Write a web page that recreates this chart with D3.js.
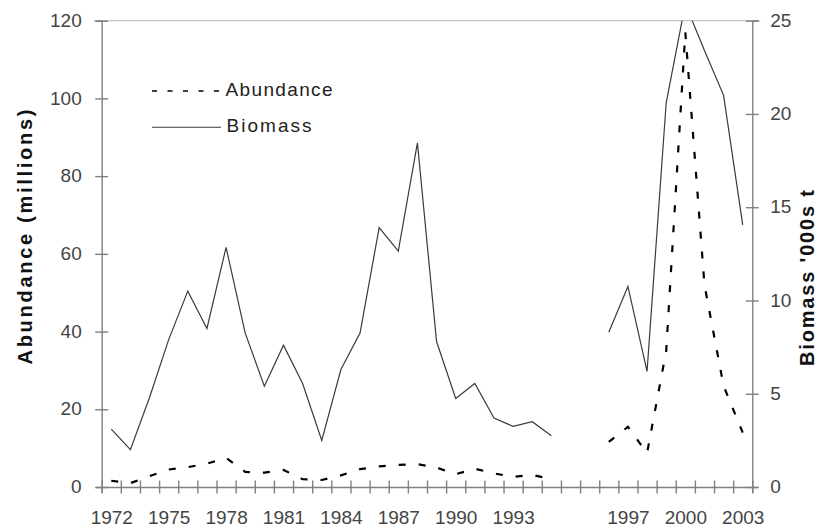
<!DOCTYPE html>
<html>
<head>
<meta charset="utf-8">
<script src="https://cdn.jsdelivr.net/npm/d3@7"></script>
<style>
  html, body { margin: 0; padding: 0; background: #fff; }
  svg { display: block; font-family: "Liberation Sans", Arial, sans-serif; }
</style>
</head>
<body>
<svg id="chart" width="827" height="529"></svg>
<script>
// Survey years (two blank slots separate the two survey series)
const categories = [
  "1972","1973","1974","1975","1976","1977","1978","1979","1980","1981",
  "1982","1983","1984","1985","1986","1987","1988","1989","1990","1991",
  "1992","1993","1994","1995","","","1996","1997","1998","1999",
  "2000","2001","2002","2003"
];

// Abundance, millions of fish (left axis)
const abundance = [
  1.6, 1.0, 2.8, 4.5, 5.1, 6.0, 7.5, 3.9, 3.7, 4.4,
  2.0, 1.8, 3.0, 4.6, 5.3, 5.7, 5.9, 5.0, 3.3, 4.7,
  3.5, 2.6, 3.1, 2.0, null, null, 11.6, 15.5, 8.7, 35,
  117, 52, 26, 14
];

// Biomass, thousand tonnes (right axis)
const biomass = [
  3.1, 2.0, 4.8, 7.9, 10.5, 8.5, 12.85, 8.25, 5.4, 7.6,
  5.55, 2.5, 6.3, 8.25, 13.9, 12.65, 18.45, 7.8, 4.75, 5.55,
  3.7, 3.25, 3.5, 2.75, null, null, 8.3, 10.75, 6.2, 20.6,
  25.9, 23.4, 21.0, 14.05
];

const leftTicks = [0, 20, 40, 60, 80, 100, 120];
const rightTicks = [0, 5, 10, 15, 20, 25];
const labelEvery = 3;

const svg = d3.select("#chart");
const plot = { left: 101.7, right: 752.3, top: 20.7, bottom: 487 };
const axisColor = "#808080";
const textColor = "#444";

// Category slots: band boundaries carry the ticks, centres carry the points
const xb = d3.scaleLinear().domain([0, categories.length]).range([plot.left, plot.right]);
const xc = i => xb(i + 0.5);
const yA = d3.scaleLinear().domain([0, 120]).range([plot.bottom, plot.top]);
const yB = d3.scaleLinear().domain([0, 25]).range([plot.bottom, plot.top]);

svg.append("defs").append("clipPath").attr("id", "plotClip")
  .append("rect")
  .attr("x", plot.left).attr("y", plot.top)
  .attr("width", plot.right - plot.left).attr("height", plot.bottom - plot.top);

// Top border of the plot area
svg.append("line")
  .attr("x1", plot.left - 8).attr("x2", plot.right + 8)
  .attr("y1", yA(120)).attr("y2", yA(120))
  .attr("stroke", "#c4c4c4").attr("stroke-width", 1.2);

// Left axis
const gl = svg.append("g").attr("transform", `translate(${plot.left},0)`)
  .call(d3.axisLeft(yA).tickValues(leftTicks).tickSize(6).tickPadding(14));
gl.selectAll(".tick line").attr("x1", -6.5).attr("x2", 6.5);
gl.selectAll(".tick").filter(d => d === 120).select("line").attr("stroke", "#c4c4c4");

// Right axis
const gr = svg.append("g").attr("transform", `translate(${plot.right},0)`)
  .call(d3.axisRight(yB).tickValues(rightTicks).tickSize(6).tickPadding(12));
gr.selectAll(".tick line").attr("x1", -6.5).attr("x2", 6.5);
gr.selectAll(".tick").filter(d => d === 25).select("line").attr("stroke", "#c4c4c4");

// Bottom axis: ticks between categories
const gb = svg.append("g").attr("transform", `translate(0,${plot.bottom})`)
  .call(d3.axisBottom(xb).tickValues(d3.range(categories.length + 1)).tickSize(6).tickFormat(""));
gb.selectAll(".tick line").attr("y1", -6.5).attr("y2", 6.5);

// Bottom axis labels on every third category
const labelIdx = d3.range(0, categories.length, labelEvery);
const gbl = svg.append("g").attr("transform", `translate(0,${plot.bottom})`)
  .call(d3.axisBottom(xb).tickValues(labelIdx.map(i => i + 0.5)).tickSize(0)
    .tickFormat(v => categories[Math.round(v - 0.5)]));
gbl.select(".domain").remove();
gbl.selectAll(".tick text").attr("y", 37).attr("dy", 0);

[gl, gr, gb].forEach(g => {
  g.select(".domain").attr("stroke", axisColor).attr("stroke-width", 1.4);
  g.selectAll(".tick line").attr("stroke", axisColor).attr("stroke-width", 1.4);
});
[gl, gr, gbl].forEach(g => {
  g.selectAll(".tick text").attr("fill", textColor)
    .style("font-size", "19px").style("font-family", "'Liberation Sans', Arial, sans-serif");
});
gl.selectAll(".tick text").attr("dy", "0.3em");
gr.selectAll(".tick text").attr("dy", "0.3em");

// Series lines
const lines = svg.append("g").attr("clip-path", "url(#plotClip)");

const lineB = d3.line()
  .defined(d => d != null)
  .x((d, i) => xc(i))
  .y(d => yB(d));
lines.append("path").datum(biomass)
  .attr("d", lineB)
  .attr("fill", "none").attr("stroke", "#3a3a3a").attr("stroke-width", 1.2)
  .attr("stroke-linejoin", "miter");

const lineA = d3.line()
  .defined(d => d != null)
  .x((d, i) => xc(i))
  .y(d => yA(d));
lines.append("path").datum(abundance)
  .attr("d", lineA)
  .attr("fill", "none").attr("stroke", "#000").attr("stroke-width", 2.2)
  .attr("stroke-dasharray", "7,13");

// Legend
const legend = svg.append("g");
legend.append("line")
  .attr("x1", 152).attr("x2", 221).attr("y1", 91).attr("y2", 91)
  .attr("stroke", "#000").attr("stroke-width", 1.4).attr("stroke-dasharray", "5,10.5");
legend.append("text")
  .attr("x", 225.5).attr("y", 96)
  .attr("textLength", 107).attr("lengthAdjust", "spacing")
  .attr("fill", "#222").style("font-size", "19px")
  .text("Abundance");
legend.append("line")
  .attr("x1", 152).attr("x2", 221).attr("y1", 127.3).attr("y2", 127.3)
  .attr("stroke", "#3a3a3a").attr("stroke-width", 1.1);
legend.append("text")
  .attr("x", 226.5).attr("y", 132)
  .attr("textLength", 85).attr("lengthAdjust", "spacing")
  .attr("fill", "#222").style("font-size", "19px")
  .text("Biomass");

// Axis titles
svg.append("text")
  .attr("transform", "translate(32,237) rotate(-90)")
  .attr("text-anchor", "middle")
  .attr("textLength", 255).attr("lengthAdjust", "spacing")
  .style("font-size", "20px").style("font-weight", "bold")
  .attr("fill", "#111")
  .text("Abundance (millions)");

svg.append("text")
  .attr("transform", "translate(814,278) rotate(-90)")
  .attr("text-anchor", "middle")
  .attr("textLength", 176).attr("lengthAdjust", "spacing")
  .style("font-size", "20px").style("font-weight", "bold")
  .attr("fill", "#111")
  .text("Biomass '000s t");
</script>
</body>
</html>
